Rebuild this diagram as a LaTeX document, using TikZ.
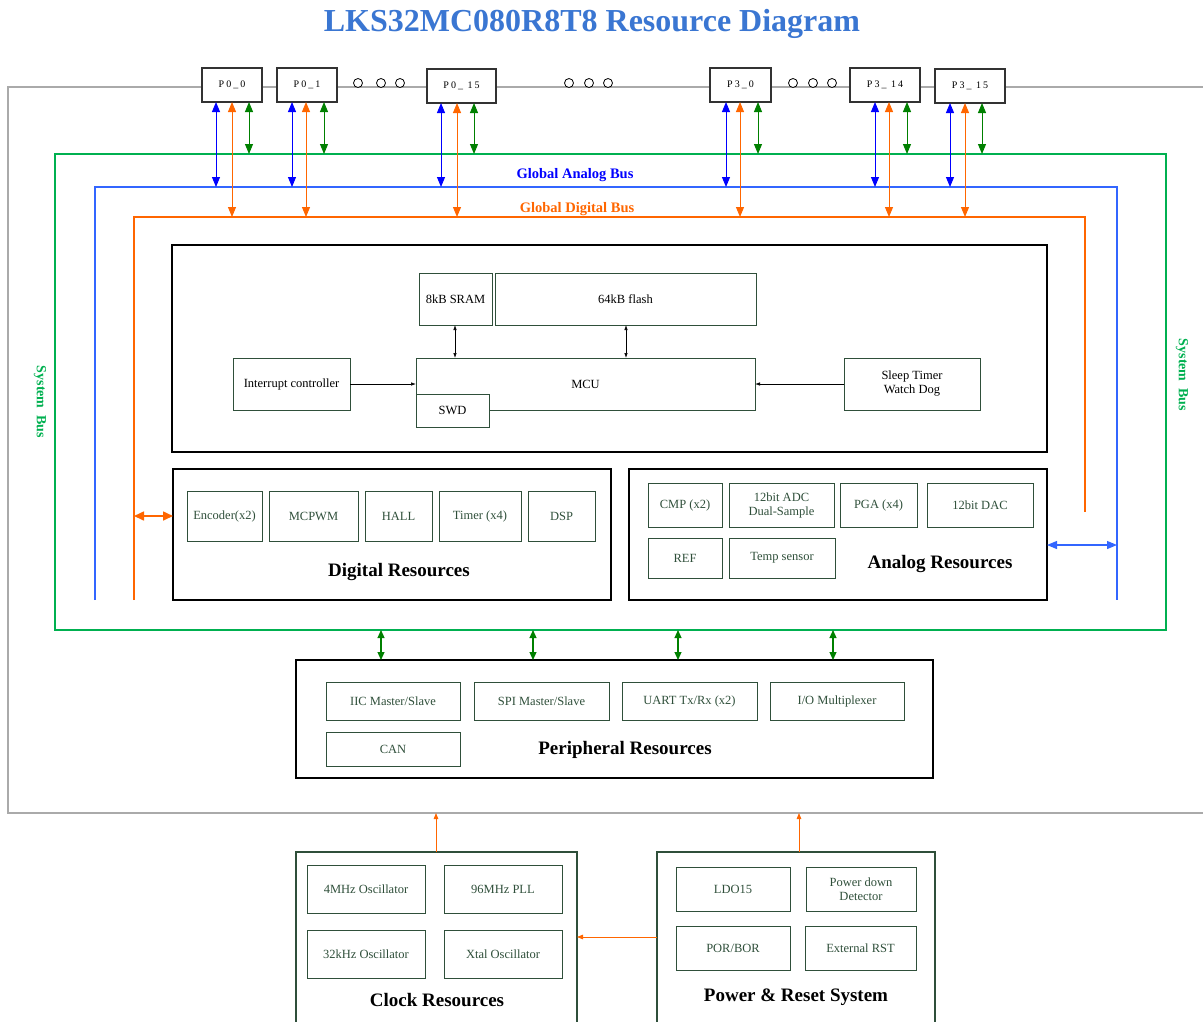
\documentclass[tikz,border=0pt]{standalone}
\usepackage{fontspec}
\setmainfont{Liberation Serif}
\newfontfamily\pinfont[LetterSpace=20]{Liberation Serif}
\usetikzlibrary{arrows.meta}
\definecolor{orng}{RGB}{255,102,0}
\definecolor{busblue}{RGB}{51,102,255}
\definecolor{pblue}{RGB}{0,0,255}
\definecolor{pgreen}{RGB}{0,128,0}
\definecolor{busgreen}{RGB}{0,176,80}
\definecolor{dkgreen}{RGB}{47,79,58}
\definecolor{titleblue}{RGB}{58,118,210}
\definecolor{sysgray}{RGB}{170,170,170}
\definecolor{pingray}{RGB}{50,50,50}
\newcommand{\mybox}[7]{\node[#1, minimum width={(#5)-(#3)}, minimum height={(#6)-(#4)}] (#2) at ({((#3)+(#5))/2},{((#4)+(#6))/2}) {#7};}
\tikzset{
  sub/.style={draw=dkgreen, text=dkgreen, line width=0.9pt, inner sep=0pt, outer sep=0pt, align=center, font=\fontsize{12.5}{14}\selectfont},
  subk/.style={sub, text=black},
  big/.style={draw=black, line width=1.4pt, inner sep=0pt, outer sep=0pt},
  grnbig/.style={draw=dkgreen, line width=1.2pt, inner sep=0pt, outer sep=0pt},
  pin/.style={draw=pingray, line width=1.1pt, fill=white, inner sep=0pt, outer sep=0pt, font=\pinfont\fontsize{10}{11}\selectfont},
  lbl/.style={font=\bfseries\fontsize{19}{22}\selectfont},
  buslbl/.style={font=\bfseries\fontsize{14.5}{17}\selectfont},
  pa/.style={line width=1pt, >={Triangle[length=10pt,width=8pt]}, <->},
  ga/.style={pgreen, line width=1.1pt, >={Triangle[length=8pt,width=7pt]}, <->},
  sm/.style={line width=0.7pt, >={Latex[length=5pt,width=3.5pt]}},
  oa/.style={orng, line width=0.8pt, >={Triangle[length=6pt,width=4.5pt]}, ->}
}
\begin{document}
\begin{tikzpicture}[x=1pt, y=-1pt]
\useasboundingbox (0,0) rectangle (1203,1021);
% title
\node[font=\bfseries\fontsize{32}{36}\selectfont, text=titleblue] (title) at (592,24) {LKS32MC080R8T8 Resource Diagram};
% system outline
\draw[sysgray, line width=1.3pt] (1203,87) -- (8,87) -- (8,813) -- (1203,813);
\foreach \x in {358,381,400,569,589,608,793,813,832}
  \draw[line width=0.8pt, fill=white] (\x,83) circle (4.5);
% pins
\mybox{pin}{p00}{202}{68}{262}{102}{P0\_0}
\mybox{pin}{p01}{277}{68}{337}{102}{P0\_1}
\mybox{pin}{p015}{427}{69}{496}{103}{P0\_ 15}
\mybox{pin}{p30}{710}{68}{771}{102}{P3\_0}
\mybox{pin}{p314}{850}{68}{920}{102}{P3\_ 14}
\mybox{pin}{p315}{935}{69}{1005}{103}{P3\_ 15}
% buses
\coordinate (gbus) at (0,154);
\coordinate (abus) at (0,187);
\coordinate (dbus) at (0,217);
\draw[busgreen, line width=1.6pt] (55,154) rectangle (1166,630);
\draw[busblue, line width=1.4pt] (95,600) -- (95,187) -- (1117,187) -- (1117,600);
\draw[orng, line width=1.4pt] (134,600) -- (134,217) -- (1085,217) -- (1085,512);
\node[buslbl, text=pblue] (gab) at (575,175) {Global Analog Bus};
\node[buslbl, text=orng] (gdb) at (577,209) {Global Digital Bus};
\node[font=\bfseries\fontsize{14}{16}\selectfont, text=busgreen, rotate=-90] (sbl) at (40,402) {System\ \ Bus};
\node[font=\bfseries\fontsize{14}{16}\selectfont, text=busgreen, rotate=-90] (sbr) at (1182,375) {System\ \ Bus};
\foreach \n/\a/\b/\c in {p00/216/232/249, p01/292/306/324, p015/441/457/474, p30/726/740/758, p314/875/889/907, p315/950/965/982}{
  \draw[pa, pblue] (\a,0 |- \n.south) -- (\a,0 |- abus);
  \draw[pa, orng] (\b,0 |- \n.south) -- (\b,0 |- dbus);
  \draw[pa, pgreen] (\c,0 |- \n.south) -- (\c,0 |- gbus);
}
% core
\mybox{big}{core}{172}{245}{1047}{452}{}
\mybox{subk}{sram}{419}{273}{492}{325}{8kB SRAM}
\mybox{subk}{flash}{495}{273}{756}{325}{64kB flash}
\mybox{subk}{mcu}{416}{358}{755}{410}{MCU}
\mybox{subk,fill=white}{swd}{416}{394}{489}{427}{SWD}
\mybox{subk}{intc}{233}{358}{350}{410}{Interrupt controller}
\mybox{subk}{sleep}{844}{358}{980}{410}{Sleep Timer\\Watch Dog}
\draw[sm,<->] (455,0 |- sram.south) -- (455,0 |- mcu.north);
\draw[sm,<->] (626,0 |- flash.south) -- (626,0 |- mcu.north);
\draw[sm,->] (intc.east) -- (mcu.west);
\draw[sm,->] (sleep.west) -- (mcu.east);
% digital
\mybox{big}{dig}{173}{469}{611}{600}{}
\mybox{sub}{enc}{187}{491}{262}{541}{Encoder(x2)}
\mybox{sub}{mcpwm}{269}{491}{358}{541}{MCPWM}
\mybox{sub}{hall}{365}{491}{432}{541}{HALL}
\mybox{sub}{timer}{439}{491}{521}{541}{Timer (x4)}
\mybox{sub}{dsp}{528}{491}{595}{541}{DSP}
\node[lbl] (diglbl) at (399,572) {Digital Resources};
\coordinate (dtap) at (134,516);
\draw[orng, line width=1.6pt, >={Triangle[length=10pt,width=9pt]}, <->] (dtap) -- (dig.west |- dtap);
% analog
\mybox{big}{ana}{629}{469}{1047}{600}{}
\mybox{sub}{cmp}{648}{483}{722}{527}{CMP (x2)}
\mybox{sub}{adc}{729}{483}{834}{527}{12bit ADC\\Dual-Sample}
\mybox{sub}{pga}{840}{483}{917}{527}{PGA (x4)}
\mybox{sub}{dac}{927}{483}{1033}{527}{12bit DAC}
\mybox{sub}{ref}{648}{538}{722}{578}{REF}
\mybox{sub}{temp}{729}{538}{835}{578}{Temp sensor}
\node[lbl] (analbl) at (940,564) {Analog Resources};
\coordinate (atap) at (1117,545);
\draw[busblue, line width=1.2pt, >={Triangle[length=10pt,width=8pt]}, <->] (ana.east |- atap) -- (atap);
% peripheral
\mybox{big}{per}{296}{660}{933}{778}{}
\mybox{sub}{iic}{326}{682}{460}{720}{IIC Master/Slave}
\mybox{sub}{spi}{474}{682}{609}{720}{SPI Master/Slave}
\mybox{sub}{uart}{622}{682}{757}{720}{UART Tx/Rx (x2)}
\mybox{sub}{iomux}{770}{682}{904}{720}{I/O Multiplexer}
\mybox{sub}{can}{326}{732}{460}{766}{CAN}
\node[lbl] (perlbl) at (625,750) {Peripheral Resources};
\coordinate (gbot) at (0,630);
\foreach \x in {381,533,678,833}
  \draw[ga] (\x,0 |- gbot) -- (\x,0 |- per.north);
% clock
\mybox{grnbig}{clk}{296}{852}{577}{1025}{}
\mybox{sub}{osc4}{307}{865}{425}{913}{4MHz Oscillator}
\mybox{sub}{pll}{444}{865}{562}{913}{96MHz PLL}
\mybox{sub}{osc32}{307}{930}{425}{978}{32kHz Oscillator}
\mybox{sub}{xtal}{444}{930}{562}{978}{Xtal Oscillator}
\node[lbl] (clklbl) at (437,1000) {Clock Resources};
% power
\mybox{grnbig}{pwr}{657}{852}{935}{1025}{}
\mybox{sub}{ldo}{676}{867}{790}{911}{LDO15}
\mybox{sub}{pdd}{806}{867}{916}{911}{Power down\\Detector}
\mybox{sub}{por}{676}{926}{790}{970}{POR/BOR}
\mybox{sub}{rst}{805}{926}{916}{970}{External RST}
\node[lbl] (pwrlbl) at (796,997) {Power \& Reset System};
\coordinate (sysbot) at (0,813);
\coordinate (pclk) at (0,937);
\draw[oa] (436,0 |- clk.north) -- (436,0 |- sysbot);
\draw[oa] (799,0 |- pwr.north) -- (799,0 |- sysbot);
\draw[oa] (pwr.west |- pclk) -- (clk.east |- pclk);
\end{tikzpicture}
\end{document}
